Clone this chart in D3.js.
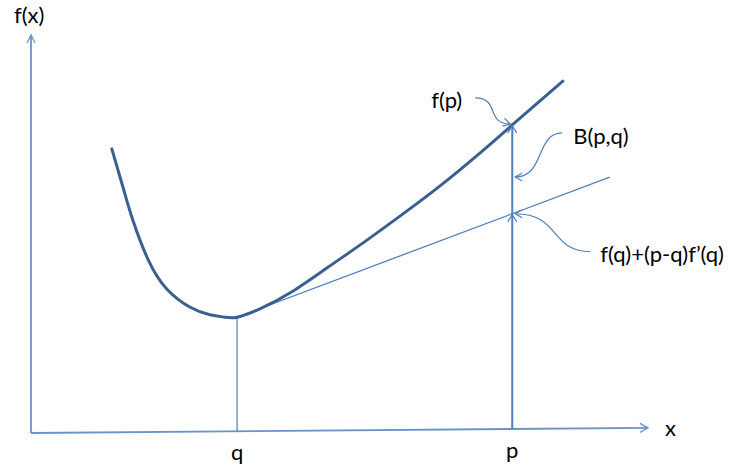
<!DOCTYPE html>
<html><head><meta charset="utf-8">
<script src="https://cdn.jsdelivr.net/npm/d3@7"></script>
<style>
html,body{margin:0;padding:0;background:#fff;}
svg{display:block;}
text{font-family:Lato,"Open Sans",sans-serif;fill:#000;}
</style>
</head><body>
<svg id="c" width="733" height="473"></svg>
<script>
// ---- data (chart units) ----
const curveX = [1.31,1.49,1.65,1.90,2.20,2.58,2.90,3.14,3.34,3.71,4.25,4.80,5.33,5.98,6.63,7.28,7.80,8.62];
const curveY = [7.14,6.18,5.35,4.35,3.62,3.16,2.97,2.91,2.91,3.12,3.57,4.15,4.72,5.45,6.21,7.04,7.74,8.84];
const markX = [3.34, 7.80];          // q, p
const markLabels = ["q", "p"];
const markF = [2.91, 7.74];          // f(q), f(p)
const tangentX = [3.34, 9.38];
const tangentY = [2.91, 6.43];
const xAxisX = [0, 10];
const xAxisY = [0, 0.13];
const yAxisX = [0, 0];
const yAxisY = [0, 10];
const axisNames = ["f(x)", "x"];
const calloutLabels = ["f(p)", "B(p,q)", "f(q)+(p-q)f\u2019(q)"];

// ---- layout ----
const svg = d3.select("#c");
const x = d3.scaleLinear([0, 10], [31, 648]);
const y = d3.scaleLinear([0, 10], [433, 35]);

const AXIS = "#6a93c8", LINE = "#4f81bd", CURVE = "#3a6092";
const FS = 22;

function chevron(tx, ty, ang, len, half, color, w) {
  const c = Math.cos(ang), s = Math.sin(ang);
  const bx = tx - c * len, by = ty - s * len;
  const px = -s * half, py = c * half;
  const p = d3.path();
  p.moveTo(bx + px, by + py);
  p.lineTo(tx, ty);
  p.lineTo(bx - px, by - py);
  svg.append("path").attr("d", p.toString()).attr("fill", "none")
    .attr("stroke", color).attr("stroke-width", w).attr("stroke-linejoin", "miter");
}

// axes
const yx0 = x(yAxisX[0]), yy0 = y(yAxisY[0]), yx1 = x(yAxisX[1]), yy1 = y(yAxisY[1]);
svg.append("line").attr("x1", yx0).attr("y1", yy0).attr("x2", yx1).attr("y2", yy1)
  .attr("stroke", AXIS).attr("stroke-width", 1.8);
chevron(yx1, yy1, -Math.PI / 2, 8, 4, AXIS, 1.3);
const xx0 = x(xAxisX[0]), xy0 = y(xAxisY[0]), xx1 = x(xAxisX[1]), xy1 = y(xAxisY[1]);
svg.append("line").attr("x1", xx0).attr("y1", xy0).attr("x2", xx1).attr("y2", xy1)
  .attr("stroke", AXIS).attr("stroke-width", 1.8);
chevron(xx1, xy1, Math.atan2(xy1 - xy0, xx1 - xx0), 8, 4.5, AXIS, 1.3);

svg.append("text").attr("x", 14).attr("y", 23).attr("font-size", FS).text(axisNames[0]);
svg.append("text").attr("x", 665).attr("y", 436).attr("font-size", FS).text(axisNames[1]);

const axisAt = v => xAxisY[0] + (xAxisY[1] - xAxisY[0]) * (v - xAxisX[0]) / (xAxisX[1] - xAxisX[0]);
const tangentAt = v => tangentY[0] + (tangentY[1] - tangentY[0]) * (v - tangentX[0]) / (tangentX[1] - tangentX[0]);

// q vertical
svg.append("line").attr("x1", x(markX[0])).attr("x2", x(markX[0]))
  .attr("y1", y(axisAt(markX[0]))).attr("y2", y(markF[0]))
  .attr("stroke", LINE).attr("stroke-width", 1.2);

// tangent
svg.append("line").attr("x1", x(tangentX[0])).attr("y1", y(tangentY[0]))
  .attr("x2", x(tangentX[1])).attr("y2", y(tangentY[1]))
  .attr("stroke", LINE).attr("stroke-width", 1.3);

// curve
const pts = curveX.map((v, i) => [v, curveY[i]]);
svg.append("path").datum(pts)
  .attr("d", d3.line().x(d => x(d[0])).y(d => y(d[1])).curve(d3.curveNatural))
  .attr("fill", "none").attr("stroke", CURVE).attr("stroke-width", 3).attr("stroke-linecap", "round");

// p vertical with arrows
const px = x(markX[1]);
const tP = tangentAt(markX[1]);
svg.append("line").attr("x1", px).attr("x2", px)
  .attr("y1", y(axisAt(markX[1]))).attr("y2", y(markF[1]))
  .attr("stroke", LINE).attr("stroke-width", 2);
chevron(px, y(tP) + 1, -Math.PI / 2, 7, 4.5, LINE, 1.3);
chevron(px, y(markF[1]) + 1, -Math.PI / 2, 7, 4.5, LINE, 1.3);

// labels q, p
markX.forEach((v, i) => {
  svg.append("text").attr("x", x(v)).attr("y", i === 0 ? 460 : 458)
    .attr("text-anchor", "middle").attr("font-size", FS).text(markLabels[i]);
});

// callouts
function callout(sx, sy, c1x, c1y, c2x, c2y, tx, ty, ang) {
  const p = d3.path();
  p.moveTo(sx, sy);
  p.bezierCurveTo(c1x, c1y, c2x, c2y, tx, ty);
  svg.append("path").attr("d", p.toString()).attr("fill", "none")
    .attr("stroke", LINE).attr("stroke-width", 1.2);
  chevron(tx, ty, ang, 7, 4, LINE, 1.2);
}
// f(p)
{
  const tx = px - 2, ty = y(markF[1]) - 1;
  const sx = tx - 35, sy = ty - 26;
  callout(sx, sy, sx + 25, sy, tx - 25, ty, tx, ty, 0.25);
  svg.append("text").attr("x", sx - 13).attr("y", sy + 10).attr("text-anchor", "end")
    .attr("font-size", FS).text(calloutLabels[0]);
}
// B(p,q)
{
  const tx = px + 3, ty = y(markF[1]) + 52;
  const sx = tx + 47, sy = ty - 44;
  callout(sx, sy, sx - 27, sy, tx + 30, ty, tx, ty, Math.PI);
  svg.append("text").attr("x", sx + 11).attr("y", sy + 11)
    .attr("font-size", FS).text(calloutLabels[1]);
}
// f(q)+(p-q)f'(q)
{
  const tx = px + 3, ty = y(tP);
  const sx = tx + 75, sy = ty + 38;
  callout(sx, sy, sx - 40, sy, tx + 45, ty, tx, ty, Math.PI);
  svg.append("text").attr("x", sx + 10).attr("y", sy + 10)
    .attr("font-size", FS).text(calloutLabels[2]);
}
</script>
</body></html>
